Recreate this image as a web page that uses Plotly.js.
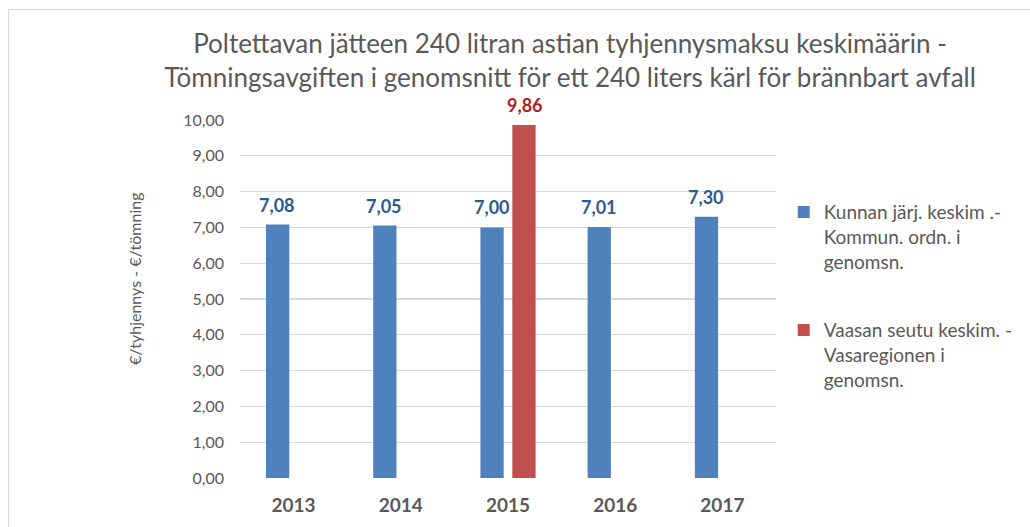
<!DOCTYPE html>
<html>
<head>
<meta charset="utf-8">
<script src="https://cdn.plot.ly/plotly-3.0.1.min.js"></script>
<style>
html,body{margin:0;padding:0;background:#fff;}
#wrap{position:relative;width:1030px;height:527px;overflow:hidden;}
#chart{width:1030px;height:527px;}
#frame{position:absolute;left:8px;top:9px;right:-4px;bottom:-4px;border-left:1.5px solid #D9D9D9;border-top:1.5px solid #D9D9D9;pointer-events:none;}
</style>
</head>
<body>
<div id="wrap"><div id="chart"></div><div id="frame"></div></div>
<script>
const years = ['2013', '2014', '2015', '2016', '2017'];
const municipalAvg = [7.08, 7.05, 7.00, 7.01, 7.30];
const vaasaRegionAvg = [null, null, 9.86, null, null];
const seriesNames = [
  'Kunnan järj. keskim .-<br>Kommun. ordn. i<br>genomsn.',
  'Vaasan seutu keskim. -<br>Vasaregionen i<br>genomsn.'
];
const yTicks = [0, 1, 2, 3, 4, 5, 6, 7, 8, 9, 10];
const chartTitle = 'Poltettavan jätteen 240 litran astian tyhjennysmaksu keskimäärin -<br>Tömningsavgiften i genomsnitt för ett 240 liters kärl för brännbart avfall';
const yTitle = '€/tyhjennys - €/tömning';

const FONT = 'Lato, "Open Sans", sans-serif';
const GREY = '#595959';
const fmt = v => v.toFixed(2).replace('.', ',');

const traces = [
  {type: 'bar', x: years, y: municipalAvg, name: seriesNames[0], legendgroup: 'a',
   marker: {color: '#4F81BD'}},
  {type: 'bar', x: years, y: vaasaRegionAvg, name: seriesNames[1], legendgroup: 'b',
   marker: {color: '#C0504D'}}
];

const annotations = [];
const labelSeries = [[municipalAvg, -16.5, '#2A5B91'], [vaasaRegionAvg, 16.5, '#B01E1E']];
labelSeries.forEach(([vals, dx, col]) => {
  vals.forEach((v, i) => {
    if (v === null) return;
    // category index as x (string years would be read as numeric indices)
    annotations.push({x: i, y: v, xref: 'x', yref: 'y', text: '<b>' + fmt(v) + '</b>',
      showarrow: false, yanchor: 'bottom', xshift: dx, yshift: 7,
      font: {family: FONT, size: 18, color: col}});
  });
});
annotations.push({xref: 'paper', yref: 'paper', x: -0.198, y: 0.558, text: yTitle, textangle: -90,
  showarrow: false, xanchor: 'center', yanchor: 'middle', font: {family: FONT, size: 16, color: GREY}});

const layout = {
  width: 1030, height: 527,
  paper_bgcolor: '#fff', plot_bgcolor: '#fff',
  margin: {l: 240, r: 235, t: 120, b: 49},
  font: {family: FONT, color: GREY, size: 16},
  separators: ', ',
  title: {text: chartTitle,
    font: {family: FONT, size: 26, color: GREY}, x: 0.5534, xref: 'container', xanchor: 'center',
    y: 0.899, yref: 'container', yanchor: 'top'},
  barmode: 'group', bargap: 0.405, bargroupgap: 0.27,
  xaxis: {type: 'category', showgrid: false, zeroline: false, showline: false, ticks: '',
    tickfont: {family: FONT, size: 19, color: GREY, weight: 'bold'}, ticklabelstandoff: 14},
  yaxis: {range: [0, 10], tickvals: yTicks, tickformat: '.2f', showgrid: true, gridcolor: '#D9D9D9',
    gridwidth: 1.2, zeroline: false, showline: false, ticks: '', ticklabelstandoff: 15,
    tickfont: {family: FONT, size: 16, color: GREY}},
  showlegend: true,
  legend: {x: 1.0144, xanchor: 'left', y: 0.796, yanchor: 'top', traceorder: 'grouped', tracegroupgap: 41,
    valign: 'top', font: {family: FONT, size: 19, color: GREY}, itemwidth: 30, bgcolor: 'rgba(0,0,0,0)'},
  annotations: annotations
};

Plotly.newPlot('chart', traces, layout, {displayModeBar: false, staticPlot: true});
</script>
</body>
</html>
